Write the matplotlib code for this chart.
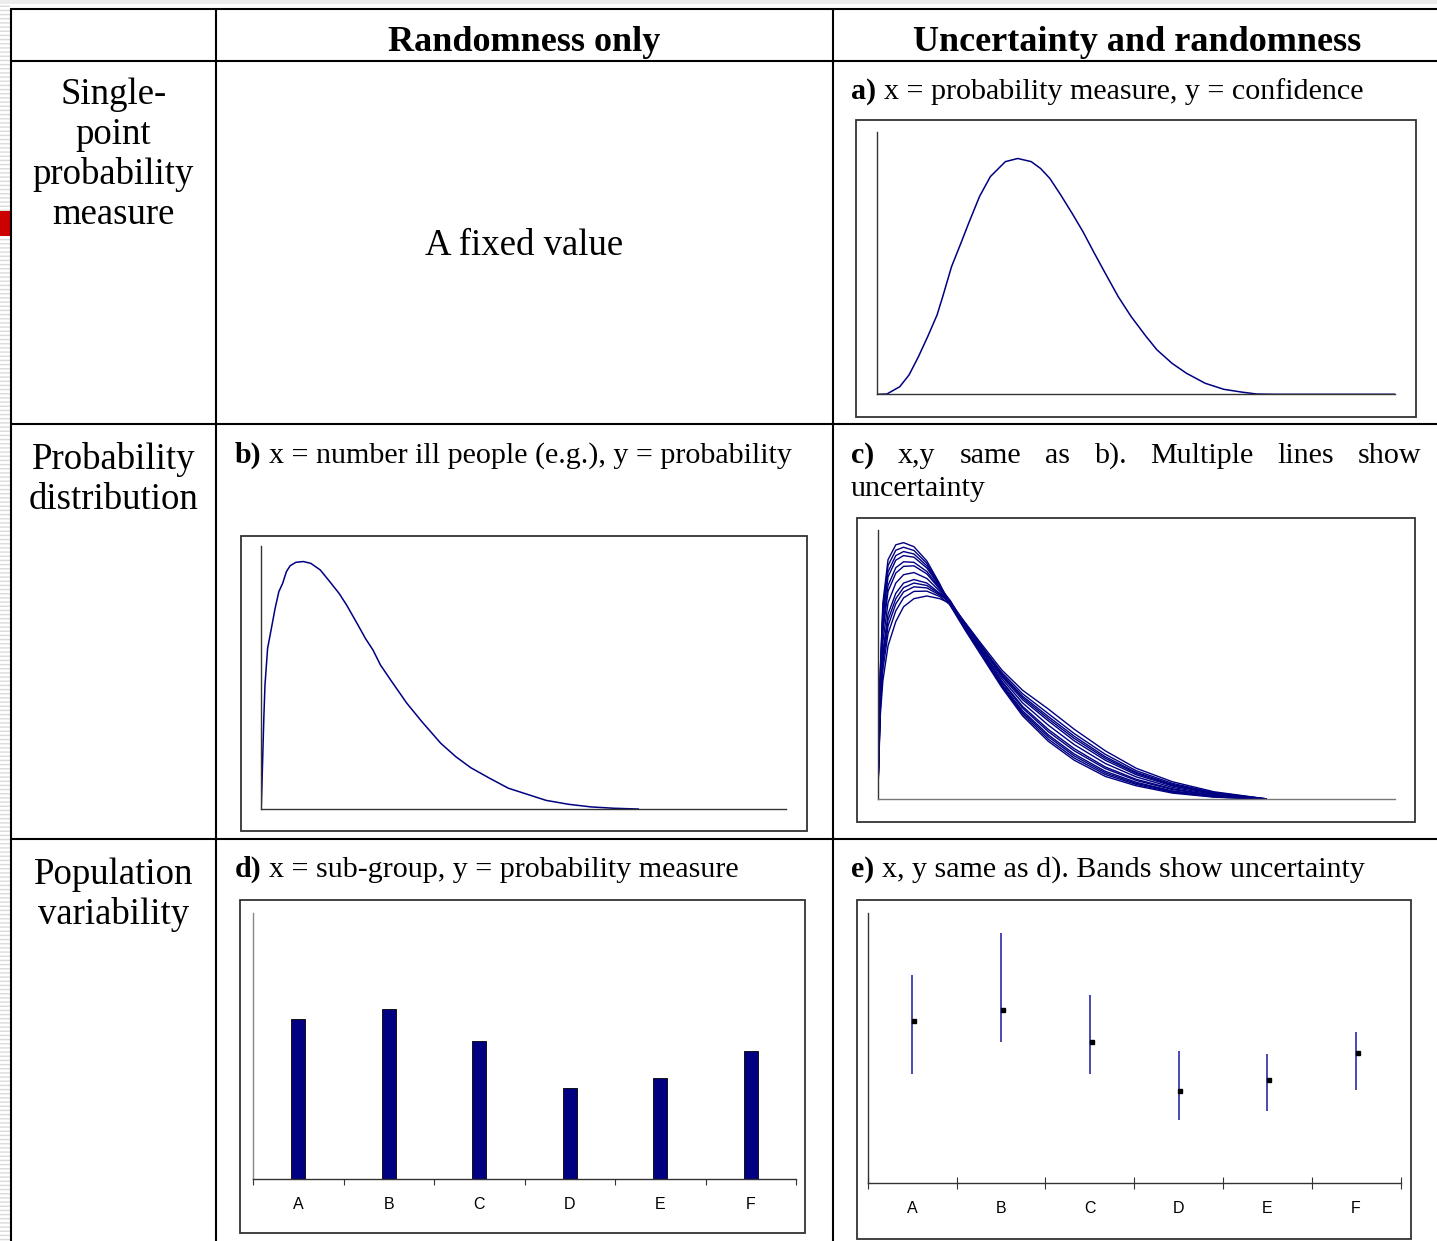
import matplotlib
matplotlib.use("Agg")
import matplotlib.pyplot as plt
from matplotlib.patches import Rectangle
from matplotlib.lines import Line2D

SERIF = "Liberation Serif"
SANS = "Liberation Sans"
NAVY = "#000080"

# ---- data ----
COL_HEADERS = ["Randomness only", "Uncertainty and randomness"]
ROW_LABELS = [["Single-", "point", "probability", "measure"],
              ["Probability", "distribution"],
              ["Population", "variability"]]

# a) confidence curve (x, y in % of axis length)
A_X = [0, 1.9, 4.4, 6.2, 8.0, 9.8, 11.6, 12.7, 14.4, 16.2, 17.7, 19.8, 21.9, 24.8, 27.2,
       29.8, 31.6, 33.4, 35.5, 37.7, 39.8, 42.0, 44.1, 46.6, 49.1, 52.0, 54.1, 57.0,
       59.8, 63.4, 67.0, 70.6, 73.4, 77.0, 100]
A_Y = [0, 0.1, 2.9, 7.4, 14.3, 22.0, 30.2, 37.2, 48.6, 57.5, 65.1, 75.3, 82.9, 88.6, 89.8,
       88.6, 86.0, 82.2, 75.9, 68.9, 61.9, 53.7, 46.1, 37.2, 29.6, 22.0, 16.9, 11.8,
       8.0, 4.2, 1.9, 0.8, 0.1, 0, 0]

# b) probability distribution
B_X = [0, 0.14, 0.5, 0.72, 1.22, 1.94, 2.65, 3.37, 4.09, 4.81, 5.52, 6.6, 8.03, 9.47,
       11.26, 13.06, 14.85, 16.28, 18.08, 19.87, 21.31, 22.74, 24.89, 27.76, 30.63,
       34.22, 37.09, 39.96, 43.54, 47.13, 50.72, 54.3, 58.6, 62.9, 67.2, 71.9]
B_Y = [0, 9.2, 34.6, 47.2, 61.1, 68.7, 76.3, 82.7, 85.8, 90.3, 92.5, 93.8, 94.1, 93.4,
       90.9, 86.5, 82.0, 77.6, 71.3, 64.9, 60.5, 54.8, 48.5, 40.3, 33.3,
       25.1, 20.0, 15.8, 11.8, 8.0, 5.7, 3.4, 1.9, 0.9, 0.4, 0.1]

# c) several distributions
C_X = [0, 0.5, 1, 2, 3.5, 5, 7, 9.5, 12, 14, 17, 20, 24, 28, 33, 38, 44, 50, 57, 65, 75]
C_CURVES = [
    [0, 48.0, 73.0, 89.0, 94.5, 95.3, 93.8, 88.5, 80.0, 72.0, 62.5, 53.5, 41.5, 31.0, 21.5, 14.5, 8.5, 5.0, 2.3, 0.8, 0],
    [0, 46.8, 71.0, 86.8, 92.5, 93.6, 92.4, 87.6, 79.6, 72.8, 63.1, 54.2, 42.0, 31.7, 22.3, 15.3, 9.2, 5.5, 2.6, 0.9, 0],
    [0, 45.6, 68.9, 84.5, 90.5, 92.0, 91.1, 86.7, 79.2, 73.5, 63.8, 54.8, 42.4, 32.3, 23.2, 16.1, 9.8, 5.9, 2.9, 1.1, 0],
    [0, 44.6, 67.2, 82.6, 88.8, 90.5, 89.9, 85.9, 78.9, 72.3, 63.0, 54.4, 42.8, 32.9, 23.9, 16.8, 10.4, 6.3, 3.1, 1.2, 0],
    [0, 42.9, 64.3, 79.4, 86.0, 88.2, 88.0, 84.6, 78.4, 73.9, 64.3, 55.6, 43.5, 33.9, 25.1, 18.0, 11.4, 7.0, 3.6, 1.4, 0.1],
    [0, 41.7, 62.3, 77.2, 84.0, 86.5, 86.7, 83.7, 78.0, 73.0, 63.7, 55.3, 43.9, 34.5, 25.9, 18.8, 12.0, 7.4, 3.9, 1.5, 0.1],
    [0, 39.5, 58.5, 73.0, 80.3, 83.4, 84.2, 82.0, 77.3, 72.5, 64.0, 55.8, 44.8, 35.8, 27.5, 20.3, 13.3, 8.3, 4.4, 1.8, 0.1],
    [0, 37.3, 54.7, 68.8, 76.5, 80.3, 81.6, 80.3, 76.5, 73.6, 64.9, 56.6, 45.6, 37.0, 29.1, 21.7, 14.5, 9.1, 4.9, 2.1, 0.1],
    [0, 36.1, 52.7, 66.6, 74.5, 78.6, 80.3, 79.4, 76.2, 72.9, 64.4, 56.5, 46.1, 37.7, 29.9, 22.6, 15.2, 9.6, 5.2, 2.2, 0.1],
    [0, 34.9, 50.7, 64.4, 72.6, 77.0, 78.9, 78.5, 75.8, 73.3, 65.1, 57.2, 46.5, 38.3, 30.7, 23.4, 15.8, 10.0, 5.5, 2.3, 0.2],
    [0, 33.4, 48.1, 61.5, 70.0, 74.8, 77.2, 77.3, 75.3, 72.2, 64.5, 56.9, 47.1, 39.2, 31.8, 24.4, 16.7, 10.6, 5.9, 2.5, 0.2],
    [0, 31.0, 44.0, 57.0, 66.0, 71.5, 74.5, 75.5, 74.5, 72.8, 65.4, 57.8, 48.0, 40.5, 33.5, 26.0, 18.0, 11.5, 6.5, 2.8, 0.2],
]

# d) / e) sub-groups
GROUPS = ["A", "B", "C", "D", "E", "F"]
MEANS = [0.30, 0.32, 0.26, 0.17, 0.19, 0.24]
LOWER = [0.201, 0.260, 0.201, 0.116, 0.133, 0.172]
UPPER = [0.384, 0.462, 0.348, 0.243, 0.238, 0.279]

W, H = 1437, 1241
fig = plt.figure(figsize=(W / 100, H / 100), dpi=100)
renderer = fig.canvas.get_renderer()

BODY = 21.6
LABEL = 26.5
HEAD = 26


def fx(x):
    return x / W


def fy(y):
    return 1 - y / H


def hline(y, x0, x1, **kw):
    fig.add_artist(Line2D([fx(x0), fx(x1)], [fy(y), fy(y)], transform=fig.transFigure, **kw))


def vline(x, y0, y1, **kw):
    fig.add_artist(Line2D([fx(x), fx(x)], [fy(y0), fy(y1)], transform=fig.transFigure, **kw))


def frame(l, t, r, b):
    fig.add_artist(Rectangle((fx(l), fy(b)), (r - l) / W, (b - t) / H, transform=fig.transFigure,
                             fill=False, ec="#333333", lw=1.3))


def axes_px(l, t, r, b):
    ax = fig.add_axes([fx(l), fy(b), (r - l) / W, (b - t) / H])
    ax.set_facecolor("none")
    for s in ["top", "right"]:
        ax.spines[s].set_visible(False)
    for s in ["left", "bottom"]:
        ax.spines[s].set_color("#333333")
        ax.spines[s].set_linewidth(1.0)
    ax.set_xticks([])
    ax.set_yticks([])
    return ax


def rich(x, y, parts, size=BODY):
    cur = x
    for s, wt in parts:
        t = fig.text(fx(cur), fy(y), s, fontsize=size, fontweight=wt, family=SERIF,
                     ha="left", va="baseline")
        cur = t.get_window_extent(renderer).x1 + size * 100 / 72 * 0.25


def justify(x0, x1, y, words, size=BODY):
    texts = []
    for i, w in enumerate(words):
        texts.append(fig.text(fx(x0), fy(y), w, fontsize=size, family=SERIF,
                              fontweight="bold" if i == 0 else "normal",
                              ha="left", va="baseline"))
    widths = [t.get_window_extent(renderer).width for t in texts]
    gap = (x1 - x0 - sum(widths)) / (len(words) - 1)
    cur = x0
    for t, wd in zip(texts, widths):
        t.set_x(fx(cur))
        cur += wd + gap


# ---- page decoration at the left edge ----
fig.add_artist(Rectangle((0, 0), fx(10), 1, transform=fig.transFigure, fc="white",
                         ec="#dadada", lw=0, hatch="----"))
fig.add_artist(Rectangle((0, fy(4)), 1, 4 / H, transform=fig.transFigure, fc="#ececec", lw=0))
fig.add_artist(Rectangle((0, fy(236)), fx(10), 25 / H, transform=fig.transFigure,
                         fc="#cc0000", lw=0))

# ---- table grid ----
grid = dict(color="black", lw=1.5, solid_capstyle="butt")
hline(9, 10.3, W, **grid)
for y in [61, 424, 839]:
    hline(y, 11, W, **grid)
for x in [11, 216, 833]:
    vline(x, 8.3, H, **grid)

# ---- header and row labels ----
fig.text(fx(524), fy(51), COL_HEADERS[0], fontsize=HEAD, fontweight="bold", family=SERIF,
         ha="center", va="baseline")
fig.text(fx(1137), fy(51), COL_HEADERS[1], fontsize=HEAD, fontweight="bold", family=SERIF,
         ha="center", va="baseline")
row_baselines = [[104, 144, 184, 224], [469, 509], [884, 924]]
for lines, bases in zip(ROW_LABELS, row_baselines):
    for s, yb in zip(lines, bases):
        fig.text(fx(113.5), fy(yb), s, fontsize=LABEL, family=SERIF, ha="center", va="baseline")

fig.text(fx(524), fy(255), "A fixed value", fontsize=LABEL, family=SERIF, ha="center",
         va="baseline")

rich(851, 99, [("a)", "bold"), ("x = probability measure, y = confidence", "normal")])
rich(235, 463, [("b)", "bold"), ("x = number ill people (e.g.), y = probability", "normal")])
justify(851, 1421, 463, ["c)", "x,y", "same", "as", "b).", "Multiple", "lines", "show"])
fig.text(fx(851), fy(496), "uncertainty", fontsize=BODY, family=SERIF, ha="left", va="baseline")
rich(235, 877, [("d)", "bold"), ("x = sub-group, y = probability measure", "normal")])
rich(851, 877, [("e)", "bold"), ("x, y same as d). Bands show uncertainty", "normal")])

# ---- a) ----
frame(855.5, 120, 1416, 416.5)
ax = axes_px(877, 131.7, 1394.6, 394.3)
ax.plot(A_X, A_Y, color=NAVY, lw=1.1)
ax.set_xlim(0, 100)
ax.set_ylim(0, 100)

# ---- b) ----
frame(240.5, 535.7, 807.5, 831)
ax = axes_px(261.2, 546, 785.7, 809.3)
ax.plot(B_X, B_Y, color=NAVY, lw=1.1)
ax.set_xlim(0, 100)
ax.set_ylim(0, 100)

# ---- c) ----
frame(856.7, 518.3, 1415, 822.3)
ax = axes_px(877.7, 530, 1395, 799.3)
for ys in C_CURVES:
    ax.plot(C_X, ys, color=NAVY, lw=1.0)
ax.spines["bottom"].set_color("#777777")
ax.set_xlim(0, 100)
ax.set_ylim(0, 100)

# ---- d) ----
frame(240, 900, 805, 1233.3)
ax = axes_px(253, 913.3, 796, 1178.7)
pos = list(range(len(GROUPS)))
ax.bar(pos, MEANS, width=0.155, color=NAVY, edgecolor="black", lw=0.6)
ax.spines["left"].set_color("#888888")
ax.set_xlim(-0.5, 5.5)
ax.set_ylim(0, 0.5)
ax.set_xticks(pos)
ax.set_xticklabels(GROUPS, fontfamily=SANS, fontsize=11.5)
ax.tick_params(axis="x", which="major", length=0, pad=13.5)
ax.set_xticks([p - 0.5 for p in range(len(GROUPS) + 1)], minor=True)
ax.tick_params(axis="x", which="minor", length=4, width=0.8, color="#333333", direction="out")

# ---- e) ----
frame(856.7, 900, 1410.5, 1239.3)
ax = axes_px(867.8, 912.7, 1400.5, 1182.7)
ax.vlines(pos, LOWER, UPPER, color="#2a2aa8", lw=1.2)
ax.plot([p + 0.02 for p in pos], MEANS, "s", ms=2.3, color="black")
ax.set_xlim(-0.5, 5.5)
ax.set_ylim(0, 0.5)
ax.set_xticks(pos)
ax.set_xticklabels(GROUPS, fontfamily=SANS, fontsize=11.5)
ax.tick_params(axis="x", which="major", length=0, pad=13.5)
ax.set_xticks([p - 0.5 for p in range(len(GROUPS) + 1)], minor=True)
ax.tick_params(axis="x", which="minor", length=8, width=0.8, color="#333333", direction="inout")

fig.savefig("out.png", dpi=100)
